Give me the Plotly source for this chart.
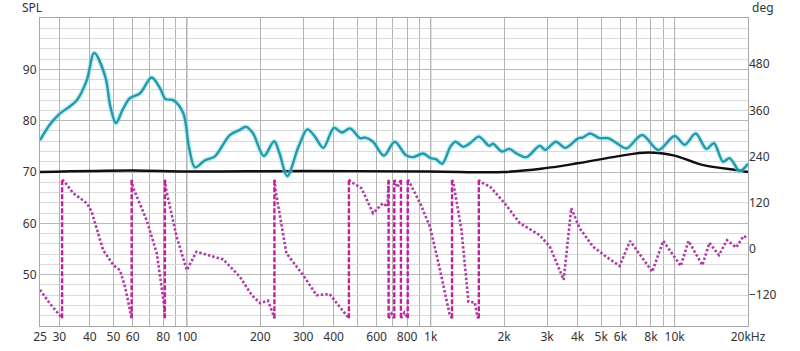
import math
import plotly.graph_objects as go

# ---------------- data ----------------
SPL_FREQ = [25, 27.4, 29.7, 35.4, 38.9, 41.7, 46.3, 48.6, 51.2, 54.5, 58.4, 64.2, 71.7, 77.7,
            81.8, 88, 96.8, 102, 108, 118.8, 130, 150, 165, 175, 187, 207, 228, 240, 258,
            287, 312, 335, 363, 401, 432, 467, 513, 540, 580, 643, 712, 790, 846, 930,
            1000, 1050, 1115, 1203, 1263, 1360, 1450, 1575, 1737, 1800, 1958, 2100, 2250,
            2470, 2800, 2950, 3260, 3560, 4040, 4200, 4500, 4930, 5340, 5800, 6350, 7360,
            8580, 10000, 11000, 12200, 13500, 14500, 15800, 16800, 18500, 20000]
SPL_DB = [76.2, 79.2, 81.1, 84.0, 87.9, 93.2, 88.6, 82.7, 79.5, 82.1, 84.4, 85.3, 88.4, 86.3,
          84.2, 84.0, 81.4, 74.9, 70.9, 72.3, 73.0, 77.2, 78.2, 78.8, 77.5, 73.1, 76.0, 73.6, 69.2,
          74.9, 78.3, 76.9, 74.7, 78.6, 77.7, 78.5, 76.6, 76.7, 75.9, 73.2, 75.9, 73.3, 72.9, 73.6,
          72.7, 72.5, 71.6, 74.9, 75.9, 74.9, 75.6, 76.9, 75.1, 75.5, 74.0, 74.5, 73.6,
          72.9, 75.1, 74.3, 75.9, 74.7, 76.6, 76.7, 77.5, 76.6, 76.6, 75.6, 74.6, 77.2,
          74.3, 77.0, 75.3, 77.5, 74.5, 75.6, 72.0, 72.7, 70.2, 71.6]

REF_FREQ = [25, 60, 100, 300, 1000, 2000, 2900, 4000, 5900, 7800, 10000, 13000, 18500, 20000]
REF_DB = [70.0, 70.3, 70.1, 70.2, 70.1, 70.0, 70.7, 71.7, 73.1, 73.8, 73.2, 71.4, 70.3, 70.0]

PH_FREQ = [25, 27.4, 30.8, 30.8, 31.5, 34.2, 38.9, 40.7, 45.4, 50, 53.2, 55.8, 58.4, 59.4,
           59.4, 60, 68.4, 75.3, 80.5, 81.3, 81.3, 82, 90.8, 100, 109.5, 124.6, 141, 165,
           184.6, 200, 215, 226, 228.6, 228.6, 231, 256, 300, 340, 385, 450, 462, 462, 470,
           520, 580, 637, 665, 672, 672, 690, 709, 709, 730, 755, 755, 780, 805, 805, 823,
           905, 993, 1088, 1193, 1223, 1223, 1240, 1337, 1428, 1515, 1555, 1575, 1575, 1590,
           1752, 2010, 2320, 2800, 3080, 3510, 3770, 4080, 4630, 5240, 5950, 6570, 8100,
           8980, 10600, 11400, 13000, 13900, 15200, 16400, 17900, 19200, 20000]
PH_DEG = [-106, -141, -180, 180, 175, 145, 119, 97, -3, -42, -55, -98, -158, -180,
          180, 162, 75, -11, -141, -180, 180, 158, 32, -55, -7, -18, -27, -72,
          -120, -141, -134, -170, -180, 180, 153, -11, -68, -120, -117, -171, -180, 180, 175,
          158, 93, 119, 110, 180, -180, -168, -180, 180, 160, 180, -180, -165, -180, 180, 170,
          119, 58, -50, -167, -180, 180, 170, 49, -137, -139, -176, -180, 180, 175,
          162, 119, 67, 36, 6, -80, 106, 54, 6, -20, -44, 21, -59,
          21, -44, 21, -42, 16, -16, 23, 4, 34, 28]

X_LABELED = [25, 30, 40, 50, 60, 80, 100, 200, 300, 400, 600, 800, 1000, 2000, 3000,
             4000, 5000, 6000, 8000, 10000, 20000]
X_LABELS = ["25", "30", "40", "50", "60", "80", "100", "200", "300", "400", "600", "800",
            "1k", "2k", "3k", "4k", "5k", "6k", "8k", "10k", "20kHz"]
X_MINOR = [70, 90, 500, 700, 900, 7000, 9000]
X_DECADES = [100, 1000, 10000]
Y_LABELED = [50, 60, 70, 80, 90]
Y_MINOR = list(range(40, 101, 2))
DEG_TICKS = [-120, 0, 120, 240, 360, 480]

# ---------------- build phase pieces ----------------
ph_x, ph_y, wr_x, wr_y = [], [], [], []
for i, (f, d) in enumerate(zip(PH_FREQ, PH_DEG)):
    if i > 0 and abs(d - PH_DEG[i - 1]) > 300:
        ph_x.append(None); ph_y.append(None)
        wr_x += [PH_FREQ[i - 1], f, None]
        wr_y += [PH_DEG[i - 1], d, None]
    ph_x.append(f); ph_y.append(d)

FONT = "Noto Sans"
fig = go.Figure()

fig.add_trace(go.Scatter(x=ph_x, y=ph_y, yaxis="y2", mode="lines",
                         line=dict(color="#b03ca6", width=2.6, dash="2.5px,2px"),
                         connectgaps=False, hoverinfo="skip"))
fig.add_trace(go.Scatter(x=wr_x, y=wr_y, yaxis="y2", mode="lines",
                         line=dict(color="#c41d9a", width=2.4, dash="5px,2px"),
                         hoverinfo="skip"))
fig.add_trace(go.Scatter(x=REF_FREQ, y=REF_DB, mode="lines",
                         line=dict(color="#101010", width=2.4, shape="spline", smoothing=1.0),
                         hoverinfo="skip"))
fig.add_trace(go.Scatter(x=SPL_FREQ, y=SPL_DB, mode="lines",
                         line=dict(color="rgba(110,225,240,0.45)", width=5, shape="spline", smoothing=0.9),
                         hoverinfo="skip"))
fig.add_trace(go.Scatter(x=SPL_FREQ, y=SPL_DB, mode="lines",
                         line=dict(color="#2a97a9", width=2.4, shape="spline", smoothing=0.9),
                         hoverinfo="skip"))

shapes = []
for d in X_DECADES:
    shapes.append(dict(type="line", xref="x", yref="paper", x0=d, x1=d, y0=0, y1=1,
                       line=dict(color="#7a7a7a", width=1), layer="below"))

fig.update_layout(
    width=800, height=351,
    margin=dict(l=40, r=52, t=18, b=25, autoexpand=False),
    paper_bgcolor="white", plot_bgcolor="white",
    showlegend=False,
    font=dict(family=FONT, size=12, color="#333333"),
    shapes=shapes,
    xaxis=dict(type="log", range=[math.log10(25), math.log10(20000)],
               tickvals=X_LABELED, ticktext=X_LABELS, ticks="", automargin=False,
               showgrid=True, gridcolor="#b4b4b4", gridwidth=1,
               minor=dict(tickvals=X_MINOR, showgrid=True, gridcolor="#b4b4b4", ticks=""),
               showline=True, linecolor="#a8a8a8", mirror=True, zeroline=False,
               tickfont=dict(family=FONT, size=12, color="#333333")),
    yaxis=dict(range=[40, 100], tickvals=Y_LABELED, ticks="", automargin=False,
               showgrid=True, gridcolor="#b8b8b8", gridwidth=1,
               minor=dict(tickvals=Y_MINOR, showgrid=True, gridcolor="#dadada", ticks=""),
               showline=True, linecolor="#a8a8a8", mirror=True, zeroline=False,
               tickfont=dict(family=FONT, size=12, color="#333333")),
    yaxis2=dict(range=[-200, 600], overlaying="y", side="right", tickvals=DEG_TICKS,
                showgrid=False, zeroline=False, ticks="", showline=False, automargin=False,
                tickfont=dict(family=FONT, size=12, color="#333333")),
    annotations=[
        dict(text="SPL", xref="paper", yref="paper", x=-20 / 708, y=1 + 10 / 308,
             xanchor="left", yanchor="middle", showarrow=False,
             font=dict(family=FONT, size=12, color="#333333")),
        dict(text="deg", xref="paper", yref="paper", x=1 + 2 / 708, y=1 + 10 / 308,
             xanchor="left", yanchor="middle", showarrow=False,
             font=dict(family=FONT, size=12, color="#333333")),
    ],
)

fig.write_html("out.html")
